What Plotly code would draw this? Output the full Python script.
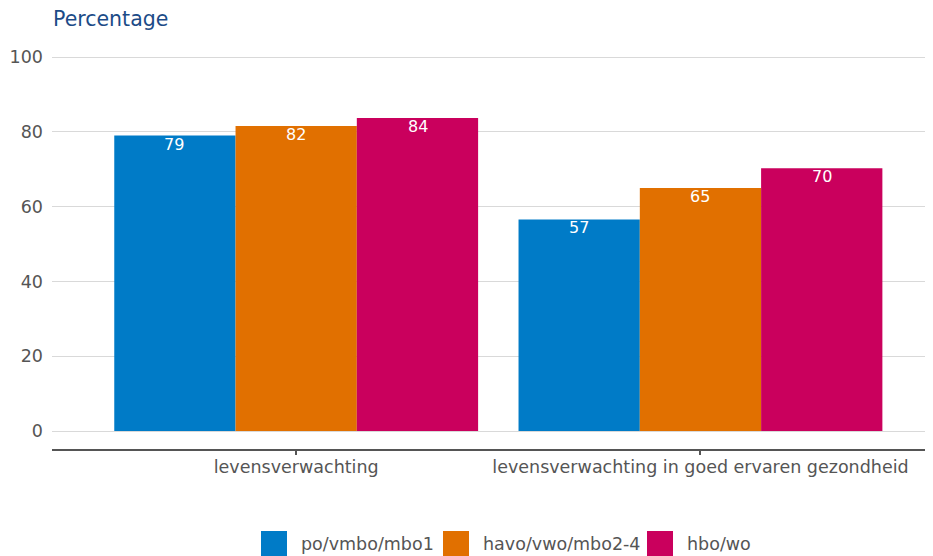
import plotly.graph_objects as go

categories = ["levensverwachting", "levensverwachting in goed ervaren gezondheid"]
series_names = ["po/vmbo/mbo1", "havo/vwo/mbo2-4", "hbo/wo"]
po_vmbo_mbo1 = [79.0, 56.6]
havo_vwo_mbo24 = [81.6, 65.0]
hbo_wo = [83.7, 70.3]
y_ticks = [0, 20, 40, 60, 80, 100]
y_title = "Percentage"

colors = ["#007bc7", "#e17000", "#ca005d"]
series_values = [po_vmbo_mbo1, havo_vwo_mbo24, hbo_wo]

OFF = 8  # page body margin
W, H = 933, 556 - OFF
ml, mr, mt, mb = 52 - OFF, 0, 38 - OFF, 556 - 449
pw, ph = W - ml - mr, H - mt - mb
FONT = "DejaVu Sans"
GREY = "#555555"
BAR_PX = 121.8  # bar width in pixels (for label placement)

fig = go.Figure()
annotations = []
n = len(series_names)
for i, (name, vals, col) in enumerate(zip(series_names, series_values, colors)):
    fig.add_trace(go.Bar(
        x=categories, y=vals, name=name,
        marker=dict(color=col, line=dict(width=0)),
        showlegend=False,
    ))
    for c, v in zip(categories, vals):
        annotations.append(dict(
            x=c, y=v, xref="x", yref="y", text=f"{v:.0f}", showarrow=False,
            xanchor="center", yanchor="top", xshift=(i - (n - 1) / 2) * BAR_PX,
            yshift=3, font=dict(color="white", size=16, family=FONT)))

# custom legend (large square swatches), positioned in page pixels -> paper
def px2x(px):
    return (px - OFF - ml) / pw

def py2y(py):
    return (H - mb - (py - OFF)) / ph

shapes = []
sw_left = [261, 443, 647]
for i, (name, col) in enumerate(zip(series_names, colors)):
    x0 = sw_left[i]
    shapes.append(dict(type="rect", xref="paper", yref="paper",
                       x0=px2x(x0), x1=px2x(x0 + 26), y0=py2y(531), y1=py2y(557),
                       fillcolor=col, line=dict(width=0)))
    annotations.append(dict(xref="paper", yref="paper", x=px2x(x0 + 38), y=py2y(544),
                            text=name, showarrow=False, xanchor="left", yanchor="middle",
                            font=dict(size=17.5, color=GREY, family=FONT)))

annotations.append(dict(xref="paper", yref="paper", x=px2x(51), y=py2y(19),
                        text=y_title, showarrow=False, xanchor="left", yanchor="middle",
                        font=dict(size=20.5, color="#1c4b87", family=FONT)))

fig.update_layout(
    width=W, height=H,
    margin=dict(l=ml, r=mr, t=mt, b=mb, pad=0),
    plot_bgcolor="white", paper_bgcolor="white",
    barmode="group", bargap=0.1, bargroupgap=0,
    font=dict(family=FONT, color=GREY),
    shapes=shapes, annotations=annotations,
    showlegend=False,
)
fig.update_yaxes(
    range=[-4.8, 105.1], tickvals=y_ticks, showgrid=True, gridcolor="#d9d9d9",
    gridwidth=1, zeroline=False, showline=False, ticks="",
    tickfont=dict(size=17.5, color=GREY, family=FONT), ticklabelstandoff=8,
)
fig.update_xaxes(
    range=[-0.604, 1.595], showline=True, linecolor="#555555", linewidth=2,
    ticks="outside", ticklen=4, tickcolor="#555555", tickwidth=2,
    tickfont=dict(size=17.5, color=GREY, family=FONT), showgrid=False,
    ticklabelstandoff=-3,
)

fig.write_html("out.html")
